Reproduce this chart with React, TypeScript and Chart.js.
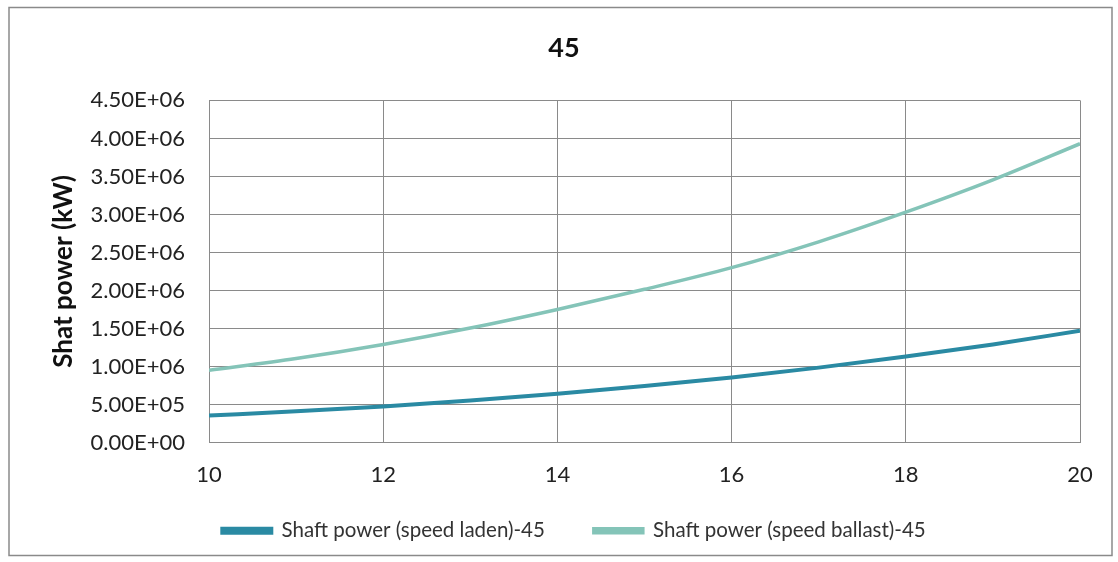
import React, { useEffect, useRef } from "react";
import { Chart, registerables } from "chart.js";

Chart.register(...registerables);

const speeds = [10, 11, 12, 13, 14, 15, 16, 17, 18, 19, 20];
const ladenPower = [355000, 410000, 475000, 552000, 640000, 742000, 855000, 985000, 1130000, 1290000, 1470000];
const ballastPower = [950000, 1105000, 1290000, 1505000, 1750000, 2015000, 2300000, 2640000, 3030000, 3455000, 3930000];
const chartTitle = "45";
const yAxisTitle = "Shat power (kW)";
const seriesNames = ["Shaft power (speed laden)-45", "Shaft power (speed ballast)-45"];

function fmtExp(v: number): string {
  const s = v.toExponential(2).toUpperCase();
  const [m, e] = s.split("E");
  const sign = e[0] === "-" ? "-" : "+";
  const digits = e.replace(/[+-]/, "").padStart(2, "0");
  return `${m}E${sign}${digits}`;
}

const borderPlugin = {
  id: "outerBorder",
  beforeDraw(chart: any) {
    const ctx = chart.ctx;
    ctx.save();
    ctx.fillStyle = "#ffffff";
    ctx.fillRect(0, 0, chart.width, chart.height);
    ctx.strokeStyle = "#8a8a8a";
    ctx.lineWidth = 1.5;
    ctx.strokeRect(9, 7.5, 1103, 548);
    ctx.restore();
  },
};

const legendShiftPlugin = {
  id: "legendShift",
  afterLayout(chart: any) {
    if (chart.legend) {
      chart.legend.left += 10;
      chart.legend.right += 10;
    }
  },
};

export default function App() {
  const ref = useRef<HTMLCanvasElement>(null);
  useEffect(() => {
    if (!ref.current) return;
    const font = "Lato, 'Open Sans', sans-serif";
    const chart = new Chart(ref.current, {
      type: "line",
      data: {
        datasets: [
          {
            label: seriesNames[0],
            data: speeds.map((x, i) => ({ x, y: ladenPower[i] })),
            borderColor: "#2a8aa3",
            backgroundColor: "#2a8aa3",
            borderWidth: 4,
            pointRadius: 0,
            cubicInterpolationMode: "monotone",
          },
          {
            label: seriesNames[1],
            data: speeds.map((x, i) => ({ x, y: ballastPower[i] })),
            borderColor: "#84c4b8",
            backgroundColor: "#84c4b8",
            borderWidth: 3.5,
            pointRadius: 0,
            cubicInterpolationMode: "monotone",
          },
        ],
      },
      options: {
        animation: false,
        responsive: false,
        devicePixelRatio: 1,
        layout: { padding: { left: 48, right: 38, top: 32, bottom: 11 } },
        plugins: {
          title: {
            display: true,
            text: chartTitle,
            color: "#111",
            font: { family: font, size: 27, weight: "bold" },
            padding: { top: 0, bottom: 36 },
          },
          legend: {
            position: "bottom",
            labels: {
              color: "#333",
              font: { family: font, size: 20.5 },
              boxWidth: 49,
              boxHeight: 4,
              padding: 49,
            },
          },
          tooltip: { enabled: false },
        },
        scales: {
          x: {
            type: "linear",
            min: 10,
            max: 20,
            afterFit: (s: any) => {
              s.height = 29;
              s._computeLabelArea = () => undefined;
            },
            ticks: {
              stepSize: 2,
              color: "#222",
              font: { family: font, size: 22 },
              padding: 19,
            },
            grid: { color: "#8a8a8a", lineWidth: 1, drawTicks: false },
            border: { color: "#8a8a8a" },
          },
          y: {
            min: 0,
            max: 4500000,
            afterFit: (s: any) => {
              s.width = 161;
            },
            ticks: {
              stepSize: 500000,
              color: "#222",
              font: { family: font, size: 22 },
              padding: 24,
              callback: (v: any) => fmtExp(Number(v)),
            },
            grid: { color: "#8a8a8a", lineWidth: 1, drawTicks: false },
            border: { color: "#8a8a8a" },
            title: {
              display: true,
              text: yAxisTitle,
              color: "#111",
              font: { family: font, size: 26, weight: "bold" },
              padding: 0,
            },
          },
        },
      },
      plugins: [borderPlugin, legendShiftPlugin],
    } as any);
    return () => chart.destroy();
  }, []);
  return (
    <div style={{ position: "absolute", left: 0, top: 0, width: 1118, height: 562 }}>
      <canvas ref={ref} width={1118} height={562} style={{ display: "block" }} />
    </div>
  );
}
